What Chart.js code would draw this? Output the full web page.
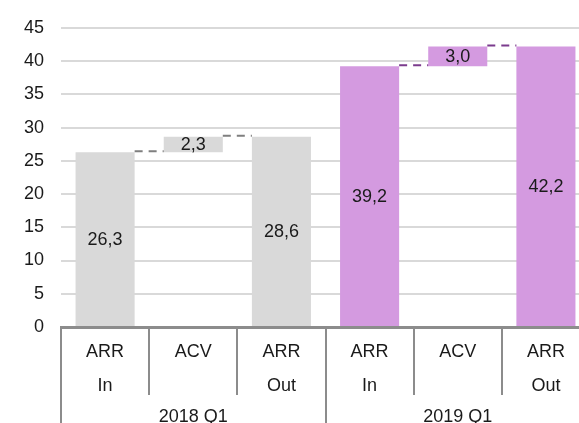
<!DOCTYPE html>
<html>
<head>
<meta charset="utf-8">
<script src="https://cdn.jsdelivr.net/npm/chart.js@4/dist/chart.umd.min.js"></script>
<style>
  html, body { margin: 0; padding: 0; background: #fff; overflow: hidden; }
  #wrap { width: 600px; height: 423px; position: relative; }
</style>
</head>
<body>
<div id="wrap"><canvas id="arrChart"></canvas></div>
<script>
"use strict";

// data
const categories = [["ARR", "In"], ["ACV", ""], ["ARR", "Out"], ["ARR", "In"], ["ACV", ""], ["ARR", "Out"]];
const groups = ["2018 Q1", "2019 Q1"];
const barStart = [0, 26.3, 0, 0, 39.2, 0];
const barEnd = [26.3, 28.6, 28.6, 39.2, 42.2, 42.2];
const barText = ["26,3", "2,3", "28,6", "39,2", "3,0", "42,2"];
const barGroup = [0, 0, 0, 1, 1, 1];

const groupColors = ["#d9d9d9", "#d49ae0"];
const connectorColors = ["#7f7f7f", "#7b3b8d"];
const textColor = "#1a1a1a";
const axisGrey = "#8c8c8c";
const FONT = "'Liberation Sans', Arial, sans-serif";

// dashed steps between neighbouring bars of the same quarter
const connectors = {
  id: "connectors",
  afterDatasetsDraw(chart) {
    const ctx = chart.ctx;
    const bars = chart.getDatasetMeta(0).data;
    const y = chart.scales.y;
    ctx.save();
    ctx.lineWidth = 2;
    ctx.setLineDash([8, 6]);
    for (let i = 0; i < bars.length - 1; i++) {
      if (barGroup[i] !== barGroup[i + 1]) continue;
      const py = y.getPixelForValue(barEnd[i]) - 1;
      ctx.strokeStyle = connectorColors[barGroup[i]];
      ctx.beginPath();
      ctx.moveTo(bars[i].x + bars[i].width / 2, py);
      ctx.lineTo(bars[i + 1].x - bars[i + 1].width / 2, py);
      ctx.stroke();
    }
    ctx.restore();
  },
};

// value labels in the middle of each bar
const barLabels = {
  id: "barLabels",
  afterDatasetsDraw(chart) {
    const ctx = chart.ctx;
    const bars = chart.getDatasetMeta(0).data;
    ctx.save();
    ctx.font = "18px " + FONT;
    ctx.fillStyle = textColor;
    ctx.textAlign = "center";
    ctx.textBaseline = "middle";
    bars.forEach((bar, i) => {
      ctx.fillText(barText[i], bar.x, (bar.y + bar.base) / 2 + 1);
    });
    ctx.restore();
  },
};

const config = {
  type: "bar",
  data: {
    labels: categories,
    datasets: [
      {
        data: barStart.map((s, i) => [s, barEnd[i]]),
        backgroundColor: barGroup.map((g) => groupColors[g]),
        borderWidth: 0,
        categoryPercentage: 1,
        barPercentage: 0.67,
      },
    ],
  },
  options: {
    responsive: true,
    maintainAspectRatio: false,
    devicePixelRatio: 1,
    animation: false,
    layout: {
      padding: { left: 7, top: 27, right: 10, bottom: 0 },
    },
    plugins: {
      legend: { display: false },
      tooltip: { enabled: false },
    },
    scales: {
      y: {
        min: 0,
        max: 45,
        ticks: {
          stepSize: 5,
          padding: 17,
          color: textColor,
          font: { family: FONT, size: 18 },
        },
        grid: { color: "#d9d9d9", lineWidth: 2, drawTicks: false },
        border: { display: false },
      },
      x: {
        offset: true,
        ticks: {
          padding: -60,
          color: textColor,
          maxRotation: 0,
          autoSkip: false,
          font: { family: FONT, size: 18, lineHeight: 1.9 },
        },
        grid: {
          offset: true,
          drawOnChartArea: false,
          tickLength: 68,
          color: axisGrey,
          lineWidth: 2,
        },
        border: { display: true, color: axisGrey, width: 3 },
        afterFit: (axis) => {
          axis.height = 68;
        },
      },
      x2: {
        type: "category",
        position: "bottom",
        labels: groups,
        offset: true,
        ticks: {
          padding: -19,
          color: textColor,
          maxRotation: 0,
          font: { family: FONT, size: 18 },
        },
        grid: {
          offset: true,
          drawOnChartArea: false,
          tickLength: 30,
          color: axisGrey,
          lineWidth: 2,
        },
        border: { display: false },
        afterFit: (axis) => {
          axis.height = 28;
        },
      },
    },
  },
  plugins: [connectors, barLabels],
};

const arrChart = new Chart(document.getElementById("arrChart"), config);
</script>
</body>
</html>
